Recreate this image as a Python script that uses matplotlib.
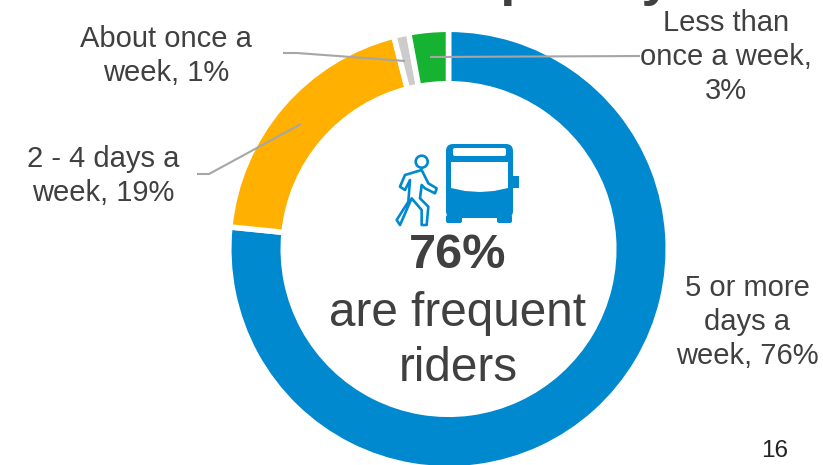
import matplotlib
matplotlib.use('Agg')
from matplotlib import pyplot as plt
from matplotlib.patches import FancyBboxPatch, Rectangle, Polygon

plt.rcParams['font.family'] = ['Liberation Sans', 'DejaVu Sans']

# the ring is a bit off the rounded labels
labels = ['5 or more\ndays a\nweek, 76%', '2 - 4 days a\nweek, 19%', 'About once a\nweek, 1%', 'Less than\nonce a week,\n3%']
shares = [76.6, 19.4, 1.1, 2.9]
colors = ['#0089CF', '#FFB000', '#CCCCCC', '#16B232']
pull = [0.03, 0, 0, 0]
big_number = '76%'
big_text = 'are frequent\nriders'
title = 'Frequency'
page = '16'

blue = '#0089CF'
grey = '#404040'
H = 465

fig = plt.figure(figsize=(8.23, 4.65), dpi=100)
ax = fig.add_axes([0, 0, 1, 1])

cx, cy, R = 448.5, H - 249, 219.75
ax.pie(shares, colors=colors, explode=pull, startangle=90, counterclock=False, center=(cx, cy), radius=R,
       wedgeprops=dict(width=54.5, edgecolor='white', linewidth=4), frame=True)
ax.set_xlim(0, 823)
ax.set_ylim(0, H)
ax.axis('off')

#%% labels
lab = dict(ha='center', va='center', fontsize=21, color=grey, linespacing=1.28)
ax.text(747, H - 322, labels[0], **lab)
ax.text(103, H - 176, labels[1], **lab)
ax.text(166, H - 56, labels[2], **lab)
ax.text(726, H - 57, labels[3], **lab)

#%% leader lines
line = dict(color='#A6A6A6', lw=1.5, solid_capstyle='butt')
ax.plot([197, 209, 301], [H - 174, H - 174, H - 124], **line)
ax.plot([283, 297, 405], [H - 53, H - 53, H - 61], **line)
ax.plot([430, 640], [H - 57, H - 56], **line)

#%% centre text
ax.text(458, H - 256, big_number, ha='center', va='center', fontsize=35, fontweight='bold', color=grey)
ax.text(458, H - 341, big_text, ha='center', va='center', fontsize=34.3, color=grey, linespacing=1.27)
ax.text(775, H - 451, page, ha='center', va='center', fontsize=17.5, color='#222222')

# title cut off by the top edge of the slide, only the descenders show
ax.text(535, H + 5, title, ha='center', va='baseline', fontsize=39, fontweight='bold', color=grey, clip_on=True)

#%% bus
ax.add_patch(FancyBboxPatch((446, H - 218), 67, 74, boxstyle='round,pad=0,rounding_size=7', fc=blue, ec='none'))
ax.add_patch(FancyBboxPatch((446, H - 223), 16, 8, boxstyle='round,pad=0,rounding_size=2', fc=blue, ec='none'))
ax.add_patch(FancyBboxPatch((497, H - 223), 15, 8, boxstyle='round,pad=0,rounding_size=2', fc=blue, ec='none'))
ax.add_patch(Rectangle((513, H - 188), 6, 12, fc=blue, ec='none'))
ax.add_patch(FancyBboxPatch((453, H - 156), 53, 8, boxstyle='round,pad=0,rounding_size=2', fc='white', ec='none'))
ax.add_patch(Polygon([(451, H - 162), (508, H - 162), (508, H - 188), (494, H - 191), (480, H - 192), (465, H - 191), (451, H - 188)],
                     fc='white', ec='none', joinstyle='round'))

#%% walking man
ax.add_patch(plt.Circle((421.7, H - 161.7), 6, fc='none', ec=blue, lw=1.9))
man = [(75, 135), (125, 120), (145, 160), (170, 175), (165, 190), (135, 175), (125, 165), (120, 205), (145, 230),
       (140, 285), (125, 285), (125, 240), (95, 205), (60, 285), (50, 270), (85, 215), (90, 150), (75, 180), (60, 170)]
ax.add_patch(Polygon([(380 + x / 3, H - 130 - y / 3) for x, y in man], fc='none', ec=blue, lw=1.9, joinstyle='round'))

plt.savefig('out.png', dpi=100)
